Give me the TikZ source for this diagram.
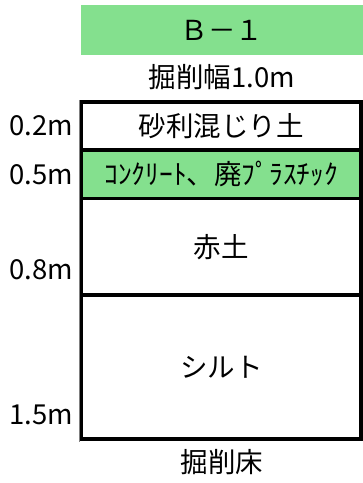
\documentclass[tikz,border=0pt]{standalone}
\usepackage{fontspec}
\setmainfont{Noto Sans CJK JP}
\definecolor{layergreen}{RGB}{132,224,142}
\tikzset{
  layer/.style={draw=black, line width=3.3pt, minimum width=279.3pt, inner sep=0pt},
  depth/.style={anchor=east, inner sep=0pt}
}
\begin{document}
\begin{tikzpicture}[x=1pt, y=-1pt, font=\fontsize{27.5}{30}\selectfont]
  \useasboundingbox (0,0) rectangle (363,483);

  % Title and width
  \node[fill=layergreen, minimum width=282pt, minimum height=50pt, inner sep=0pt] (title) at (222,30) {Ｂ－１};
  \node (width) at (222,77) {掘削幅1.0m};

  % Side line
  \coordinate (sidetop) at (79.3,100);
  \coordinate (sidebot) at (79.3,442);
  \draw[gray, line width=0.9pt] (sidetop) -- (sidebot);

  % Draw the layers
  \node[layer, minimum height=48pt] (gravel) at (221.35,126) {砂利混じり土};
  \node[layer, fill=layergreen, minimum height=48.5pt] (waste) at (221.35,174.25) {ｺﾝｸﾘｰﾄ、廃ﾌﾟﾗｽﾁｯｸ};
  \node[layer, minimum height=96.5pt] (redsoil) at (221.35,246.75) {赤土};
  \node[layer, minimum height=144pt] (silt) at (221.35,367) {シルト};

  \node (floor) at (222,462) {掘削床};

  % Depths
  \node[depth] (d1) at (73,126) {0.2m};
  \node[depth] (d2) at (73,175) {0.5m};
  \node[depth] (d3) at (73,270) {0.8m};
  \node[depth] (d4) at (73,415) {1.5m};
\end{tikzpicture}
\end{document}
